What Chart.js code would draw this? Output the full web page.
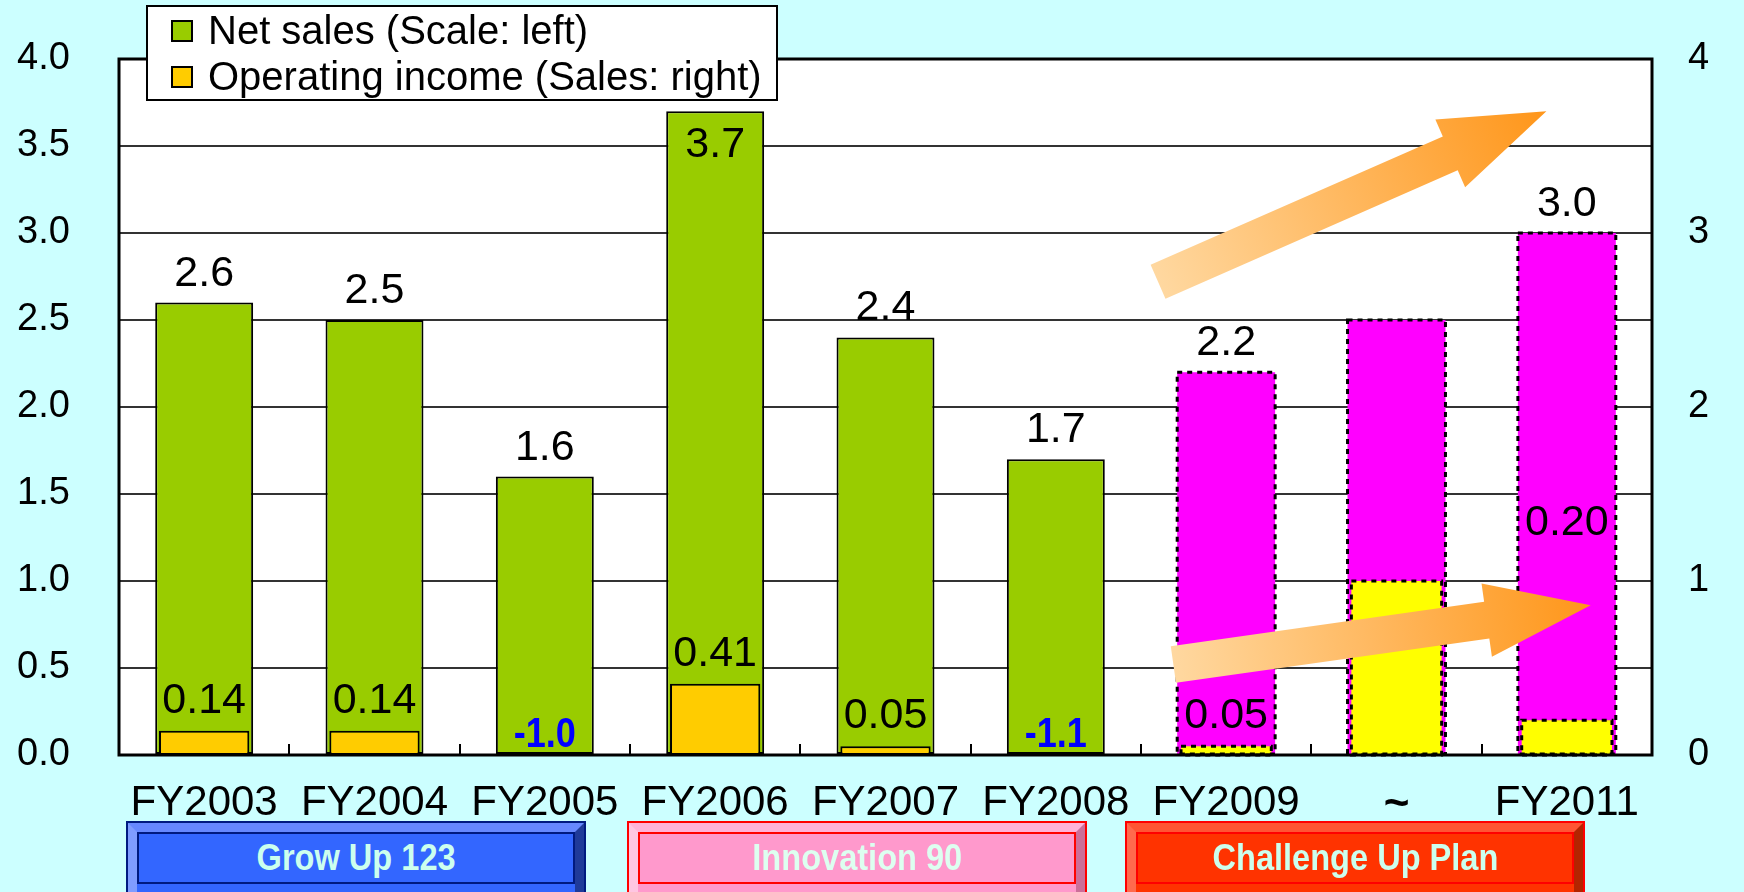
<!DOCTYPE html>
<html>
<head>
<meta charset="utf-8">
<script src="https://cdn.jsdelivr.net/npm/chart.js@4.4.1/dist/chart.umd.min.js"></script>
<style>
  html, body { margin:0; padding:0; background:#CCFFFF; width:1744px; height:892px; overflow:hidden; }
  #wrap { position:relative; width:1744px; height:892px; }
  canvas { position:absolute; left:0; top:0; }
  .prog { position:absolute; top:822px; height:90px; box-sizing:border-box; border-style:solid; border-width:10px;
          font-family:'Liberation Sans', Arial, sans-serif; font-weight:bold; font-size:37px; color:#CCFFEE; }
  .prog .face { position:absolute; left:0; top:0; right:0; height:52px; display:flex; align-items:center; justify-content:center; }
  .prog .face span { display:inline-block; transform:scaleX(0.88); white-space:nowrap; }
</style>
</head>
<body>
<div id="wrap">
  <canvas id="c" width="1744" height="892"></canvas>
  <div class="prog" id="p0"><div class="face"><span></span></div></div>
  <div class="prog" id="p1"><div class="face"><span></span></div></div>
  <div class="prog" id="p2"><div class="face"><span></span></div></div>
</div>
<script>
// ---------- data ----------
const categories = ['FY2003','FY2004','FY2005','FY2006','FY2007','FY2008','FY2009','~','FY2011'];
const netSales = [2.6, 2.5, 1.6, 3.7, 2.4, 1.7, 2.2, 2.5, 3.0];
const operatingIncome = [0.14, 0.14, -1.0, 0.41, 0.05, -1.1, 0.05, 1.0, 0.20];
const isPlan = [false, false, false, false, false, false, true, true, true];
const showValue = [true, true, true, true, true, true, true, false, true];
const leftTicks = ['0.0','0.5','1.0','1.5','2.0','2.5','3.0','3.5','4.0'];
const rightTicks = ['0','1','2','3','4'];
const seriesNames = ['Net sales (Scale: left)', 'Operating income (Sales: right)'];
const programs = ['Grow Up 123', 'Innovation 90', 'Challenge Up Plan'];

const FONT = "'Liberation Sans', Arial, sans-serif";

// program boxes (decorative annotation under axis)
const progStyle = [
  {left:127, face:'#3366FF', t:'#6688FF', l:'#7F9CFF', r:'#1F3A99', b:'#2A4CC0', line:'#001A80', text:'#CCFFEE'},
  {left:628, face:'#FF99CC', t:'#FFB3D9', l:'#FFC6E2', r:'#CC6E99', b:'#D97AA6', line:'#FF0000', text:'#DDFFF0'},
  {left:1126, face:'#FF3300', t:'#FF5533', l:'#FF6A4D', r:'#B32400', b:'#CC2900', line:'#FF0000', text:'#CCFFEE'}
];
programs.forEach((p, i) => {
  const el = document.getElementById('p' + i), s = progStyle[i];
  el.style.left = s.left + 'px';
  el.style.width = '458px';
  el.style.background = s.face;
  el.style.borderColor = `${s.t} ${s.r} ${s.b} ${s.l}`;
  el.style.outline = `2px solid ${s.line}`;
  el.style.outlineOffset = '-1px';
  const f = el.querySelector('.face');
  f.querySelector('span').textContent = p;
  f.style.color = s.text;
  f.style.boxShadow = `inset 0 0 0 2px ${s.line}`;
});

// ---------- plugins ----------
const plotBg = {
  id: 'plotBg',
  beforeDraw(chart) {
    const {ctx, chartArea: a} = chart;
    ctx.save();
    ctx.fillStyle = '#CCFFFF';
    ctx.fillRect(0, 0, chart.width, chart.height);
    ctx.fillStyle = '#FFFFFF';
    ctx.fillRect(a.left, a.top, a.right - a.left, a.bottom - a.top);
    ctx.restore();
  }
};

function drawArrow(ctx, x0, y0, x1, y1, sh, hh, hl, c0, c1) {
  const dx = x1 - x0, dy = y1 - y0, L = Math.hypot(dx, dy);
  const ux = dx / L, uy = dy / L, nx = -uy, ny = ux;
  const bx = x1 - ux * hl, by = y1 - uy * hl;
  const g = ctx.createLinearGradient(x0, y0, x1, y1);
  g.addColorStop(0, c0); g.addColorStop(1, c1);
  ctx.beginPath();
  ctx.moveTo(x0 + nx * sh, y0 + ny * sh);
  ctx.lineTo(bx + nx * sh, by + ny * sh);
  ctx.lineTo(bx + nx * hh, by + ny * hh);
  ctx.lineTo(x1, y1);
  ctx.lineTo(bx - nx * hh, by - ny * hh);
  ctx.lineTo(bx - nx * sh, by - ny * sh);
  ctx.lineTo(x0 - nx * sh, y0 - ny * sh);
  ctx.closePath();
  ctx.fillStyle = g;
  ctx.fill();
}

function scaledText(ctx, text, x, y, sx) {
  ctx.save();
  ctx.translate(x, y);
  ctx.scale(sx, 1);
  ctx.fillText(text, 0, 0);
  ctx.restore();
}

const decor = {
  id: 'decor',
  afterDatasetsDraw(chart) {
    const {ctx, chartArea: a, scales} = chart;
    const xs = scales.x, ys = scales.y;
    ctx.save();
    // dashed borders on plan bars
    ctx.strokeStyle = '#000';
    ctx.lineWidth = 3;
    ctx.setLineDash([5, 5]);
    [1, 0].forEach(di => {
      chart.getDatasetMeta(di).data.forEach((el, i) => {
        if (!isPlan[i]) return;
        const p = el.getProps(['x', 'y', 'base', 'width'], true);
        if (di === 1 && operatingIncome[i] <= 0) return;
        const top = Math.min(p.y, p.base), h = Math.abs(p.base - p.y);
        ctx.strokeRect(p.x - p.width / 2, top, p.width, h);
      });
    });
    ctx.setLineDash([]);
    // small inward ticks between categories
    ctx.lineWidth = 2;
    for (let i = 0; i < categories.length - 1; i++) {
      const x = Math.round(xs.getPixelForValue(i + 0.5));
      ctx.beginPath(); ctx.moveTo(x, a.bottom); ctx.lineTo(x, a.bottom - 11); ctx.stroke();
    }
    // plot frame
    ctx.lineWidth = 3;
    ctx.strokeRect(a.left, a.top, a.right - a.left, a.bottom - a.top);
    // trend arrows (category index / value coordinates)
    const arrows = [[5.60, 2.72, 7.88, 3.70], [5.69, 0.52, 8.14, 0.86]];
    arrows.forEach(([i0, v0, i1, v1]) => {
      drawArrow(ctx, xs.getPixelForValue(i0), ys.getPixelForValue(v0),
                xs.getPixelForValue(i1), ys.getPixelForValue(v1),
                18.5, 37, 105, '#FFD8A0', '#FF961A');
    });
    // value labels
    ctx.textAlign = 'center';
    ctx.textBaseline = 'alphabetic';
    const m0 = chart.getDatasetMeta(0), m1 = chart.getDatasetMeta(1);
    const y2 = scales.y2;
    for (let i = 0; i < categories.length; i++) {
      if (!showValue[i]) continue;
      const e0 = m0.data[i];
      ctx.font = `43px ${FONT}`;
      ctx.fillStyle = '#000';
      const inside = e0.y - 60 < a.top;
      ctx.fillText(netSales[i].toFixed(1), e0.x, inside ? e0.y + 46 : e0.y - 17);
      const v = operatingIncome[i], e1 = m1.data[i];
      if (v < 0) {
        ctx.font = `bold 43px ${FONT}`;
        ctx.fillStyle = '#0000FF';
        scaledText(ctx, v.toFixed(1), e1.x, a.bottom - 8, 0.84);
      } else {
        ctx.font = `43px ${FONT}`;
        ctx.fillStyle = '#000';
        let by = e1.y - 18;
        if (i === 8) by = y2.getPixelForValue(1.35) + 15;
        ctx.fillText(v.toFixed(2), e1.x, by);
      }
    }
    ctx.restore();
  },
  afterDraw(chart) {
    const {ctx} = chart;
    ctx.save();
    // legend box
    ctx.fillStyle = '#FFF';
    ctx.fillRect(147, 6, 630, 94);
    ctx.strokeStyle = '#000';
    ctx.lineWidth = 2;
    ctx.strokeRect(147, 6, 630, 94);
    const cols = ['#99CC00', '#FFCC00'];
    const rowsY = [31, 77];
    ctx.font = `40px ${FONT}`;
    ctx.textBaseline = 'middle';
    ctx.textAlign = 'left';
    seriesNames.forEach((n, k) => {
      ctx.fillStyle = cols[k];
      ctx.fillRect(172, rowsY[k] - 10, 20, 20);
      ctx.lineWidth = 2;
      ctx.strokeRect(172, rowsY[k] - 10, 20, 20);
      ctx.fillStyle = '#000';
      ctx.fillText(n, 208, rowsY[k] + 2);
    });
    ctx.restore();
  }
};

// ---------- chart ----------
const tickFont = {family: FONT, size: 38};
new Chart(document.getElementById('c'), {
  type: 'bar',
  data: {
    labels: categories,
    datasets: [
      {
        label: seriesNames[0],
        data: netSales,
        yAxisID: 'y',
        order: 2,
        grouped: false,
        barPercentage: 0.575,
        categoryPercentage: 1,
        backgroundColor: categories.map((c, i) => isPlan[i] ? '#FF00FF' : '#99CC00'),
        borderColor: '#000',
        borderWidth: categories.map((c, i) => isPlan[i] ? 0 : 2),
        borderSkipped: false
      },
      {
        label: seriesNames[1],
        data: operatingIncome,
        yAxisID: 'y2',
        order: 1,
        grouped: false,
        barPercentage: 0.53,
        categoryPercentage: 1,
        backgroundColor: operatingIncome.map((v, i) => v < 0 ? 'rgba(0,0,0,0)' : (isPlan[i] ? '#FFFF00' : '#FFCC00')),
        borderColor: '#000',
        borderWidth: operatingIncome.map((v, i) => (v < 0 || isPlan[i]) ? 0 : 2),
        borderSkipped: false
      }
    ]
  },
  options: {
    responsive: false,
    animation: false,
    events: [],
    layout: {padding: {top: 59, left: 17, right: 0, bottom: 0}},
    plugins: {legend: {display: false}, tooltip: {enabled: false}},
    scales: {
      x: {
        grid: {display: false, drawTicks: false},
        border: {display: false},
        ticks: {
          color: '#000', padding: 23, maxRotation: 0, autoSkip: false,
          font: (c) => (c.tick && c.tick.label === '~') ? {family: FONT, size: 44, weight: 'bold'} : {family: FONT, size: 42}
        },
        afterFit: (s) => { s.height = 137; }
      },
      y: {
        position: 'left', min: 0, max: 4,
        ticks: {stepSize: 0.5, color: '#000', font: tickFont, padding: 0, crossAlign: 'far',
                callback: (v, i) => leftTicks[i]},
        grid: {color: '#333', lineWidth: 2, drawTicks: false},
        border: {display: false},
        afterFit: (s) => { s.width = 102; }
      },
      y2: {
        position: 'right', min: 0, max: 4,
        ticks: {stepSize: 1, color: '#000', font: tickFont, padding: 36,
                callback: (v, i) => rightTicks[i]},
        grid: {display: false, drawTicks: false},
        border: {display: false},
        afterFit: (s) => { s.width = 92; }
      }
    }
  },
  plugins: [plotBg, decor]
});
</script>
</body>
</html>
